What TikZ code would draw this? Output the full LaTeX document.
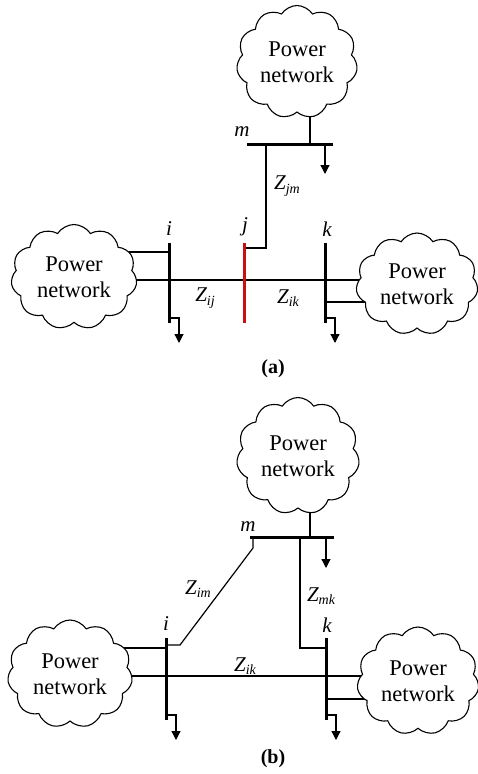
\documentclass[tikz,border=0pt]{standalone}
\usepackage{fontspec}
\setmainfont{Liberation Serif}
\usetikzlibrary{shapes.symbols,arrows.meta}
\pgfdeclarelayer{bg}
\pgfsetlayers{bg,main}
\newcommand{\Zs}[1]{\textit{Z\raisebox{-0.35ex}{\fontsize{14}{14}\selectfont #1}}}
\tikzset{
  net/.style={cloud, cloud puffs=11, cloud puff arc=115, cloud ignores aspect, draw, line width=1.1pt, fill=white,
    inner sep=0pt, align=center, font=\fontsize{22.5}{26}\selectfont},
  bus/.style={line width=3pt},
  redbus/.style={line width=3pt, draw={rgb,255:red,200;green,16;blue,16}},
  wire/.style={line width=1.2pt},
  load/.style={line width=1.2pt, -{Triangle[length=9pt,width=9pt]}},
  lbl/.style={font=\fontsize{21}{21}\selectfont\itshape, inner sep=0pt},
  zl/.style={font=\fontsize{21}{21}\selectfont, inner sep=0pt},
  captext/.style={font=\fontsize{20}{20}\selectfont\bfseries, inner sep=0pt}
}
\begin{document}
\begin{tikzpicture}[x=1pt,y=-1pt]
\useasboundingbox (0,0) rectangle (478,774);
% ---------------- (a) ----------------
\node[net, minimum width=121pt, minimum height=113pt] (aT) at (297,62) {Power\\network};
\node[net, minimum width=126pt, minimum height=105pt] (aL) at (74,277) {Power\\network};
\node[net, minimum width=122pt, minimum height=102pt] (aR) at (417,284) {Power\\network};
\coordinate (amL) at (247,144); \coordinate (amR) at (333,144);
\coordinate (aiT) at (169,243); \coordinate (aiB) at (169,323);
\coordinate (ajT) at (244,243); \coordinate (ajB) at (244,323);
\coordinate (akT) at (325,243); \coordinate (akB) at (325,323);
\coordinate (amTap) at (310,144);
\coordinate (amLd) at (325,144); \coordinate (amLdE) at (325,174);
\coordinate (amZ) at (266,144); \coordinate (ajZ) at (244,248);
\coordinate (aiC) at (169,252); \coordinate (aiLine) at (169,280);
\coordinate (akLine) at (325,280); \coordinate (akC) at (325,302);
\coordinate (aiLd) at (169,318); \coordinate (aiLdE) at (179,343);
\coordinate (akLd) at (325,318); \coordinate (akLdE) at (335,343);
\begin{pgfonlayer}{bg}
\draw[wire] (amTap) -- (amTap |- aT.center);
\draw[wire] (aiC) -- (aiC -| aL.center);
\draw[wire] (aL.center |- aiLine) -- (akLine) -- (aR.center |- akLine);
\draw[wire] (akC) -- (akC -| aR.center);
\end{pgfonlayer}
\draw[bus] (amL) -- (amR);
\draw[load] (amLd) -- (amLdE);
\draw[wire] (amZ) -- (amZ |- ajZ) -- (ajZ);
\draw[bus] (aiT) -- (aiB);
\draw[redbus] (ajT) -- (ajB);
\draw[bus] (akT) -- (akB);
\draw[load] (aiLd) -- (aiLd -| aiLdE) -- (aiLdE);
\draw[load] (akLd) -- (akLd -| akLdE) -- (akLdE);
\node[lbl] (lam) at (242,132) {m};
\node[lbl] (lai) at (169,229) {i};
\node[lbl] (laj) at (245,227) {j};
\node[lbl] (lak) at (327,229) {k};
\node[zl] (zjm) at (287,186) {\Zs{jm}};
\node[zl] (zij) at (205,298) {\Zs{ij}};
\node[zl] (zik) at (288,298) {\Zs{ik}};
\node[captext] (capa) at (273,369) {(a)};
% ---------------- (b) ----------------
\node[net, minimum width=123pt, minimum height=117pt] (bT) at (298,456) {Power\\network};
\node[net, minimum width=125pt, minimum height=108pt] (bL) at (70,674) {Power\\network};
\node[net, minimum width=122pt, minimum height=108pt] (bR) at (418,681) {Power\\network};
\coordinate (bmL) at (250,537); \coordinate (bmR) at (334,537);
\coordinate (biT) at (166,638); \coordinate (biB) at (166,720);
\coordinate (bkT) at (326,638); \coordinate (bkB) at (326,720);
\coordinate (bmTap) at (310,537);
\coordinate (bmLd) at (326,537); \coordinate (bmLdE) at (326,568);
\coordinate (bmZk) at (300,537); \coordinate (bkZ) at (326,648);
\coordinate (bmZi) at (253,537); \coordinate (bmZi2) at (253,548);
\coordinate (biZ2) at (180,645); \coordinate (biZ) at (166,645);
\coordinate (biC) at (166,648); \coordinate (biLine) at (166,676);
\coordinate (bkLine) at (326,676); \coordinate (bkC) at (326,699);
\coordinate (biLd) at (166,715); \coordinate (biLdE) at (176,740);
\coordinate (bkLd) at (326,715); \coordinate (bkLdE) at (336,740);
\begin{pgfonlayer}{bg}
\draw[wire] (bmTap) -- (bmTap |- bT.center);
\draw[wire] (biC) -- (biC -| bL.center);
\draw[wire] (bL.center |- biLine) -- (bkLine) -- (bR.center |- bkLine);
\draw[wire] (bkC) -- (bkC -| bR.center);
\end{pgfonlayer}
\draw[bus] (bmL) -- (bmR);
\draw[load] (bmLd) -- (bmLdE);
\draw[wire] (bmZk) -- (bmZk |- bkZ) -- (bkZ);
\draw[wire] (bmZi) -- (bmZi2) -- (biZ2) -- (biZ);
\draw[bus] (biT) -- (biB);
\draw[bus] (bkT) -- (bkB);
\draw[load] (biLd) -- (biLd -| biLdE) -- (biLdE);
\draw[load] (bkLd) -- (bkLd -| bkLdE) -- (bkLdE);
\node[lbl] (lbm) at (248,527) {m};
\node[lbl] (lbi) at (166,624) {i};
\node[lbl] (lbk) at (327,625) {k};
\node[zl] (zim) at (198,589) {\Zs{im}};
\node[zl] (zmk) at (321,596) {\Zs{mk}};
\node[zl] (zikb) at (245,666) {\Zs{ik}};
\node[captext] (capb) at (273,759) {(b)};
\end{tikzpicture}
\end{document}
